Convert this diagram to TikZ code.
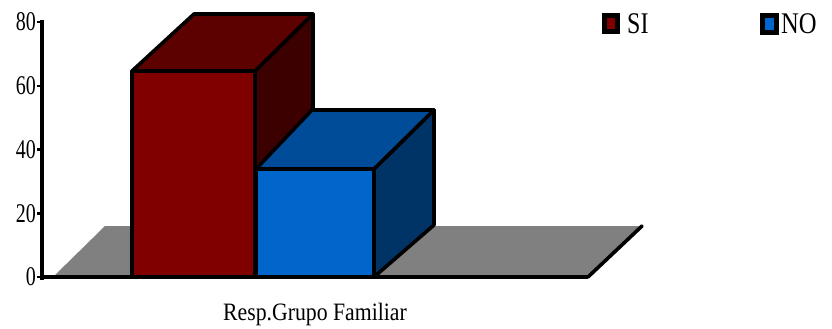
\documentclass[tikz,border=0pt]{standalone}
\usepackage{fontspec}
\setmainfont{Liberation Serif}
\definecolor{redfront}{HTML}{800000}
\definecolor{redtop}{HTML}{5C0000}
\definecolor{redside}{HTML}{3C0000}
\definecolor{bluefront}{HTML}{0066CC}
\definecolor{bluetop}{HTML}{004C99}
\definecolor{blueside}{HTML}{003366}
\definecolor{floorgray}{HTML}{808080}
\tikzset{
  face/.style={draw=black,line width=3.6pt,line join=round},
  ticklabel/.style={anchor=east,inner sep=0pt,font=\fontsize{27}{27}\selectfont},
  legendtext/.style={anchor=west,inner sep=0pt,font=\fontsize{30}{30}\selectfont},
  legendbox/.style={draw=black,line width=5pt},
}
\begin{document}
\begin{tikzpicture}[x=1pt,y=-1pt]
\useasboundingbox (0,0) rectangle (832,329);
% floor
\fill[floorgray] (53,277) -- (105,226) -- (642,226) -- (588,277) -- cycle;
\draw[line width=3.6pt,line cap=round] (588,277) -- (642,226);
% red bar
\filldraw[face,fill=redside] (255,71) -- (313,14) -- (313,225) -- (255,277) -- cycle;
\filldraw[face,fill=redtop] (132,71) -- (194,14) -- (313,14) -- (255,71) -- cycle;
\filldraw[face,fill=redfront] (132,71) rectangle (255,277);
% blue bar
\filldraw[face,fill=blueside] (374,169) -- (434,110) -- (434,225) -- (374,277) -- cycle;
\filldraw[face,fill=bluetop] (256,169) -- (312,110) -- (434,110) -- (374,169) -- cycle;
\filldraw[face,fill=bluefront] (256,169) rectangle (374,277);
% axes
\draw[line width=3.6pt] (42,20) -- (42,280);
\draw[line width=3.6pt] (40,277) -- (588,277);
\foreach \v/\yy in {0/277,20/213.25,40/149.5,60/85.75,80/22}{
  \draw[line width=2.5pt] (37,\yy) -- (42,\yy);
  \node[ticklabel] (t\v) at (36,\yy) {\scalebox{0.74}[1]{\v}};
}
% category label
\node[anchor=base,inner sep=0pt,font=\fontsize{25}{25}\selectfont] (cat) at (315,320) {\scalebox{0.87}[1]{Resp.Grupo Familiar}};
% legend
\filldraw[legendbox,fill=redfront] (604.5,15.5) rectangle (617.5,31.5);
\node[legendtext] (si) at (627,24) {\scalebox{0.8}[1]{SI}};
\filldraw[legendbox,fill=bluefront] (762.5,15.5) rectangle (776.5,33);
\node[legendtext] (no) at (781,24) {\scalebox{0.82}[1]{NO}};
\end{tikzpicture}
\end{document}
